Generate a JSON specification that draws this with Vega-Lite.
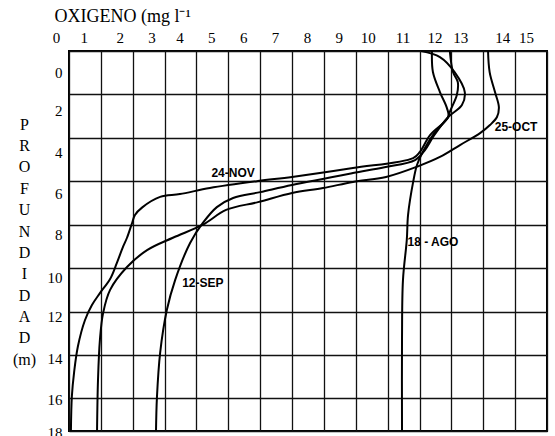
{
  "$schema": "https://vega.github.io/schema/vega-lite/v6.json",
  "width": 478,
  "height": 380,
  "autosize": {"type": "none"},
  "padding": {"left": 69, "top": 51, "right": 8, "bottom": 5},
  "background": "white",
  "config": {"view": {"stroke": "black", "strokeWidth": 2}, "font": "Liberation Serif"},
  "datasets": {
    "profiles": [
      {"fecha": "25-OCT", "profundidad": 0, "oxigeno": 13.15},
      {"fecha": "25-OCT", "profundidad": 0.97, "oxigeno": 13.2},
      {"fecha": "25-OCT", "profundidad": 1.9, "oxigeno": 13.37},
      {"fecha": "25-OCT", "profundidad": 2.58, "oxigeno": 13.49},
      {"fecha": "25-OCT", "profundidad": 3.04, "oxigeno": 13.43},
      {"fecha": "25-OCT", "profundidad": 3.41, "oxigeno": 13.21},
      {"fecha": "25-OCT", "profundidad": 3.78, "oxigeno": 12.9},
      {"fecha": "25-OCT", "profundidad": 4.33, "oxigeno": 12.27},
      {"fecha": "25-OCT", "profundidad": 4.88, "oxigeno": 11.64},
      {"fecha": "25-OCT", "profundidad": 5.3, "oxigeno": 10.97},
      {"fecha": "25-OCT", "profundidad": 5.8, "oxigeno": 9.95},
      {"fecha": "25-OCT", "profundidad": 6.03, "oxigeno": 8.91},
      {"fecha": "25-OCT", "profundidad": 6.31, "oxigeno": 7.97},
      {"fecha": "25-OCT", "profundidad": 6.54, "oxigeno": 7.0},
      {"fecha": "25-OCT", "profundidad": 6.96, "oxigeno": 5.93},
      {"fecha": "25-OCT", "profundidad": 7.32, "oxigeno": 4.93},
      {"fecha": "25-OCT", "profundidad": 8.0, "oxigeno": 4.2},
      {"fecha": "25-OCT", "profundidad": 8.6, "oxigeno": 3.26},
      {"fecha": "25-OCT", "profundidad": 9.17, "oxigeno": 2.45},
      {"fecha": "25-OCT", "profundidad": 9.95, "oxigeno": 1.82},
      {"fecha": "25-OCT", "profundidad": 11.0, "oxigeno": 1.29},
      {"fecha": "25-OCT", "profundidad": 12.07, "oxigeno": 1.07},
      {"fecha": "25-OCT", "profundidad": 13.3, "oxigeno": 0.97},
      {"fecha": "25-OCT", "profundidad": 15.15, "oxigeno": 0.91},
      {"fecha": "25-OCT", "profundidad": 17.5, "oxigeno": 0.88},

      {"fecha": "24-NOV", "profundidad": 0, "oxigeno": 11.39},
      {"fecha": "24-NOV", "profundidad": 0.97, "oxigeno": 11.42},
      {"fecha": "24-NOV", "profundidad": 1.89, "oxigeno": 11.64},
      {"fecha": "24-NOV", "profundidad": 2.63, "oxigeno": 11.86},
      {"fecha": "24-NOV", "profundidad": 3.04, "oxigeno": 11.9},
      {"fecha": "24-NOV", "profundidad": 3.87, "oxigeno": 11.33},
      {"fecha": "24-NOV", "profundidad": 4.65, "oxigeno": 11.01},
      {"fecha": "24-NOV", "profundidad": 4.93, "oxigeno": 10.8},
      {"fecha": "24-NOV", "profundidad": 5.39, "oxigeno": 8.91},
      {"fecha": "24-NOV", "profundidad": 5.8, "oxigeno": 7.0},
      {"fecha": "24-NOV", "profundidad": 5.99, "oxigeno": 5.93},
      {"fecha": "24-NOV", "profundidad": 6.31, "oxigeno": 4.42},
      {"fecha": "24-NOV", "profundidad": 6.59, "oxigeno": 3.48},
      {"fecha": "24-NOV", "profundidad": 6.72, "oxigeno": 2.86},
      {"fecha": "24-NOV", "profundidad": 7.2, "oxigeno": 2.3},
      {"fecha": "24-NOV", "profundidad": 7.55, "oxigeno": 2.07},
      {"fecha": "24-NOV", "profundidad": 7.92, "oxigeno": 1.98},
      {"fecha": "24-NOV", "profundidad": 8.6, "oxigeno": 1.82},
      {"fecha": "24-NOV", "profundidad": 9.0, "oxigeno": 1.7},
      {"fecha": "24-NOV", "profundidad": 9.77, "oxigeno": 1.5},
      {"fecha": "24-NOV", "profundidad": 10.5, "oxigeno": 1.29},
      {"fecha": "24-NOV", "profundidad": 11.15, "oxigeno": 0.97},
      {"fecha": "24-NOV", "profundidad": 11.7, "oxigeno": 0.72},
      {"fecha": "24-NOV", "profundidad": 12.4, "oxigeno": 0.5},
      {"fecha": "24-NOV", "profundidad": 13.6, "oxigeno": 0.28},
      {"fecha": "24-NOV", "profundidad": 14.8, "oxigeno": 0.16},
      {"fecha": "24-NOV", "profundidad": 15.9, "oxigeno": 0.09},
      {"fecha": "24-NOV", "profundidad": 17.5, "oxigeno": 0.06},

      {"fecha": "12-SEP", "profundidad": 0, "oxigeno": 11.05},
      {"fecha": "12-SEP", "profundidad": 0.28, "oxigeno": 11.64},
      {"fecha": "12-SEP", "profundidad": 0.97, "oxigeno": 12.1},
      {"fecha": "12-SEP", "profundidad": 1.89, "oxigeno": 12.42},
      {"fecha": "12-SEP", "profundidad": 2.49, "oxigeno": 12.33},
      {"fecha": "12-SEP", "profundidad": 3.04, "oxigeno": 11.9},
      {"fecha": "12-SEP", "profundidad": 3.9, "oxigeno": 11.45},
      {"fecha": "12-SEP", "profundidad": 4.56, "oxigeno": 11.17},
      {"fecha": "12-SEP", "profundidad": 5.02, "oxigeno": 10.86},
      {"fecha": "12-SEP", "profundidad": 5.35, "oxigeno": 9.9},
      {"fecha": "12-SEP", "profundidad": 5.62, "oxigeno": 8.91},
      {"fecha": "12-SEP", "profundidad": 6.17, "oxigeno": 7.0},
      {"fecha": "12-SEP", "profundidad": 6.5, "oxigeno": 6.0},
      {"fecha": "12-SEP", "profundidad": 6.77, "oxigeno": 5.15},
      {"fecha": "12-SEP", "profundidad": 7.19, "oxigeno": 4.64},
      {"fecha": "12-SEP", "profundidad": 7.92, "oxigeno": 4.2},
      {"fecha": "12-SEP", "profundidad": 8.84, "oxigeno": 3.8},
      {"fecha": "12-SEP", "profundidad": 10.55, "oxigeno": 3.33},
      {"fecha": "12-SEP", "profundidad": 11.93, "oxigeno": 3.07},
      {"fecha": "12-SEP", "profundidad": 13.9, "oxigeno": 2.86},
      {"fecha": "12-SEP", "profundidad": 15.94, "oxigeno": 2.76},
      {"fecha": "12-SEP", "profundidad": 17.5, "oxigeno": 2.73},

      {"fecha": "18-AGO", "profundidad": 0, "oxigeno": 11.95},
      {"fecha": "18-AGO", "profundidad": 0.97, "oxigeno": 12.05},
      {"fecha": "18-AGO", "profundidad": 1.43, "oxigeno": 12.2},
      {"fecha": "18-AGO", "profundidad": 2.03, "oxigeno": 12.17},
      {"fecha": "18-AGO", "profundidad": 2.8, "oxigeno": 11.95},
      {"fecha": "18-AGO", "profundidad": 3.04, "oxigeno": 11.9},
      {"fecha": "18-AGO", "profundidad": 3.87, "oxigeno": 11.42},
      {"fecha": "18-AGO", "profundidad": 4.65, "oxigeno": 11.1},
      {"fecha": "18-AGO", "profundidad": 5.25, "oxigeno": 10.92},
      {"fecha": "18-AGO", "profundidad": 6.03, "oxigeno": 10.8},
      {"fecha": "18-AGO", "profundidad": 7.55, "oxigeno": 10.64},
      {"fecha": "18-AGO", "profundidad": 8.7, "oxigeno": 10.6},
      {"fecha": "18-AGO", "profundidad": 10.55, "oxigeno": 10.48},
      {"fecha": "18-AGO", "profundidad": 13.3, "oxigeno": 10.45},
      {"fecha": "18-AGO", "profundidad": 17.5, "oxigeno": 10.45}
    ],
    "labels": [
      {"texto": "24-NOV", "oxigeno": 5.15, "profundidad": 5.62},
      {"texto": "25-OCT", "oxigeno": 14.03, "profundidad": 3.5},
      {"texto": "18 - AGO", "oxigeno": 11.42, "profundidad": 8.8},
      {"texto": "12-SEP", "oxigeno": 4.2, "profundidad": 10.69}
    ]
  },
  "encoding": {
    "x": {
      "field": "oxigeno", "type": "quantitative",
      "scale": {"domain": [0, 15], "nice": false, "zero": false},
      "axis": {
        "orient": "top",
        "values": [0, 1, 2, 3, 4, 5, 6, 7, 8, 9, 10, 11, 12, 13, 14, 15],
        "title": "OXIGENO (mg l⁻¹",
        "titleFont": "Liberation Serif",
        "titleFontSize": 18,
        "titleFontWeight": "normal",
        "titleColor": "black",
        "titleAnchor": "start",
        "titleAlign": "left",
        "titleBaseline": "alphabetic",
        "titleX": -15,
        "titleY": -30,
        "labelFont": "Liberation Serif",
        "labelFontSize": 15,
        "labelColor": "black",
        "labelBaseline": "alphabetic",
        "labelPadding": 9,
        "labelFlush": false,
        "labelOverlap": false,
        "labelOffset": {
          "condition": [
            {"test": "datum.value == 0", "value": -13},
            {"test": "datum.value == 2", "value": -13},
            {"test": "datum.value == 3", "value": -13},
            {"test": "datum.value == 10", "value": -20},
            {"test": "datum.value == 13", "value": -23},
            {"test": "datum.value == 14", "value": -13},
            {"test": "datum.value == 15", "value": -21}
          ],
          "value": -17
        },
        "ticks": false,
        "tickSize": 0,
        "domain": false,
        "grid": true,
        "gridColor": "#111",
        "gridWidth": 1.3,
        "gridOpacity": 1
      }
    },
    "y": {
      "field": "profundidad", "type": "quantitative",
      "scale": {"domain": [0, 17.5], "reverse": true, "nice": false, "zero": false},
      "axis": {
        "orient": "left",
        "values": [0, 2, 4, 6, 8, 10, 12, 14, 16, 17.5],
        "labelExpr": "datum.value == 17.5 ? '18' : datum.label",
        "title": ["P", "R", "O", "F", "U", "N", "D", "I", "D", "A", "D", "(m)"],
        "titleAngle": 0,
        "titleFont": "Liberation Serif",
        "titleFontSize": 16,
        "titleFontWeight": "normal",
        "titleColor": "black",
        "titleLineHeight": 21.4,
        "titleAlign": "center",
        "titleBaseline": "top",
        "titleX": -45,
        "titleY": 65,
        "labelFont": "Liberation Serif",
        "labelFontSize": 15,
        "labelColor": "black",
        "labelPadding": 7,
        "labelBaseline": "middle",
        "labelFlush": false,
        "labelOverlap": false,
        "labelOffset": {
          "condition": [
            {"test": "datum.value == 0", "value": 21},
            {"test": "datum.value == 2", "value": 16},
            {"test": "datum.value == 4", "value": 15},
            {"test": "datum.value == 6", "value": 12},
            {"test": "datum.value == 8", "value": 10},
            {"test": "datum.value == 10", "value": 9},
            {"test": "datum.value == 12", "value": 5},
            {"test": "datum.value == 14", "value": 3}
          ],
          "value": 1
        },
        "ticks": false,
        "tickSize": 0,
        "domain": false,
        "grid": true,
        "gridColor": "#111",
        "gridWidth": 1.3,
        "gridOpacity": 1
      }
    }
  },
  "layer": [
    {
      "data": {"name": "profiles"},
      "mark": {"type": "line", "interpolate": "catmull-rom", "color": "black", "strokeWidth": 2},
      "encoding": {
        "detail": {"field": "fecha", "type": "nominal"},
        "order": {"field": "profundidad", "type": "quantitative"}
      }
    },
    {
      "data": {"name": "labels"},
      "mark": {"type": "text", "font": "Liberation Sans", "fontWeight": "bold", "fontSize": 12, "color": "black"},
      "encoding": {
        "text": {"field": "texto", "type": "nominal"}
      }
    }
  ]
}
